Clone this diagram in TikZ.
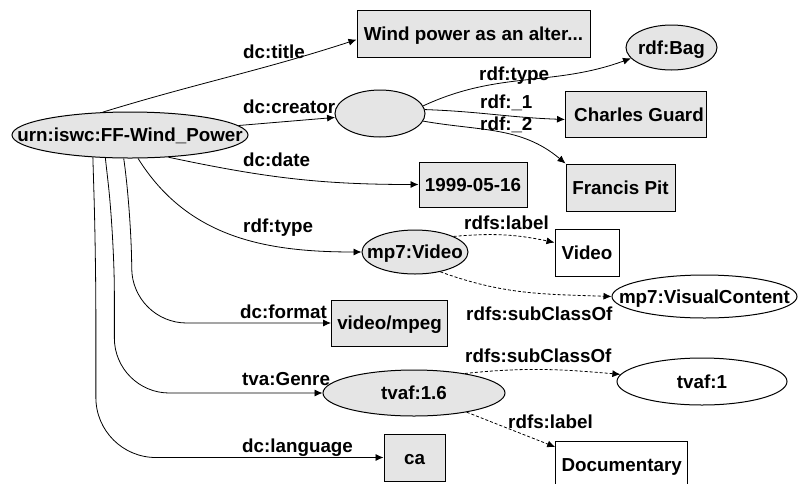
\documentclass[tikz,border=0pt]{standalone}
\usepackage{fontspec}
\setmainfont{Liberation Sans}
\usetikzlibrary{arrows.meta,shapes.geometric}

\newcommand{\squeeze}[1]{\makebox[0pt]{#1}}

\begin{document}
\begin{tikzpicture}[x=1pt, y=1pt, >={Latex[length=8pt,width=7pt]},
  every node/.style={font=\bfseries\fontsize{18.8}{20}\selectfont, inner sep=0pt},
  res/.style={ellipse, draw, line width=1pt, fill=gray!20, text height=13pt, text depth=0pt},
  cls/.style={ellipse, draw, line width=1pt, fill=white, text height=13pt, text depth=0pt},
  lit/.style={rectangle, draw, line width=1pt, fill=gray!20, text height=13pt, text depth=0pt},
  val/.style={rectangle, draw, line width=1pt, fill=white, text height=13pt, text depth=0pt},
  prop/.style={anchor=base west},
  arc/.style={->, line width=0.8pt},
  sub/.style={->, line width=0.8pt, dash pattern=on 3pt off 2pt}]
\useasboundingbox (0,0) rectangle (798,-483);
\node[res, minimum width=236pt, minimum height=46pt] (urn) at (130,-135) {\squeeze{urn:iswc:FF-Wind\_Power}};
\node[lit, minimum width=233pt, minimum height=47pt] (title) at (473.5,-33.5) {Wind power as an alter...};
\node[res, minimum width=91pt, minimum height=45pt] (bag) at (671.5,-47.5) {\squeeze{rdf:Bag}};
\node[res, minimum width=90pt, minimum height=47pt] (blank) at (380,-113.5) {};
\node[lit, minimum width=141pt, minimum height=46pt] (charles) at (636,-114.5) {\hspace{6pt}Charles Guard};
\node[lit, minimum width=108pt, minimum height=45pt] (date) at (473,-184.5) {1999-05-16};
\node[lit, minimum width=109pt, minimum height=47pt] (francis) at (620.5,-187.5) {Francis Pit};
\node[res, minimum width=106pt, minimum height=44pt] (mp7video) at (415,-252) {\squeeze{mp7:Video}};
\node[val, minimum width=64pt, minimum height=47pt] (videobox) at (587,-252.5) {Video};
\node[cls, minimum width=185pt, minimum height=43pt] (visual) at (704.5,-296.5) {\squeeze{mp7:VisualContent}};
\node[lit, minimum width=116pt, minimum height=46pt] (mpeg) at (389.5,-323) {video/mpeg};
\node[res, minimum width=182pt, minimum height=46pt] (tvaf16) at (414,-393) {\squeeze{tvaf:1.6}};
\node[cls, minimum width=170pt, minimum height=47pt] (tvaf1) at (702,-381.5) {\squeeze{tvaf:1}};
\node[lit, minimum width=61pt, minimum height=47pt] (ca) at (414.5,-457.5) {ca};
\node[val, minimum width=132pt, minimum height=47pt] (doc) at (621.7,-465) {Documentary};
\draw[arc] (urn.140) to[out=17, in=198] (title.183);
\draw[arc] (urn.5) -- (blank.185);
\draw[arc] (urn.330) to[out=-12, in=180] (date.west);
\draw[arc] (urn.289) to[out=-58, in=180] (mp7video.west);
\draw[arc, rounded corners=55pt] (urn.255) -- ++(8,-56) |- (mpeg.west);
\draw[arc, rounded corners=55pt] (urn.223) -- ++(9,-80) |- (tvaf16.west);
\draw[arc, rounded corners=60pt] (urn.211) -- ++(3,-100) |- (ca.west);
\draw[arc] (blank.10) to[out=25, in=200] (bag.195);
\draw[arc] (blank.5) to[out=-2, in=178] (charles.184);
\draw[arc] (blank.-10) to[out=-10, in=140] (francis.north west);
\draw[sub] (mp7video.22) to[out=5, in=168] ([yshift=10pt]videobox.west);
\draw[sub] (mp7video.-38) to[out=-20, in=178] (visual.west);
\draw[sub] (tvaf16.21) to[out=6, in=175] (tvaf1.175);
\draw[sub] (tvaf16.-20) -- ([yshift=-6pt]doc.north west);
\node[prop] (ltitle) at (243,-58) {dc:title};
\node[prop] (lcreator) at (243,-113) {dc:creator};
\node[prop] (ldate) at (243,-166) {dc:date};
\node[prop] (ltype) at (243,-232) {rdf:type};
\node[prop] (lformat) at (240,-318) {dc:format};
\node[prop] (lgenre) at (242,-385) {tva:Genre};
\node[prop] (llang) at (242,-452) {dc:language};
\node[prop] (lbagtype) at (479,-80) {rdf:type};
\node[prop] (lone) at (480,-108) {rdf:\_1};
\node[prop] (ltwo) at (480,-130) {rdf:\_2};
\node[prop] (lvlabel) at (464,-229) {rdfs:label};
\node[prop] (lvsub) at (466,-320) {rdfs:subClassOf};
\node[prop] (ltsub) at (465,-362) {rdfs:subClassOf};
\node[prop] (ldlabel) at (508,-428) {rdfs:label};
\end{tikzpicture}
\end{document}
